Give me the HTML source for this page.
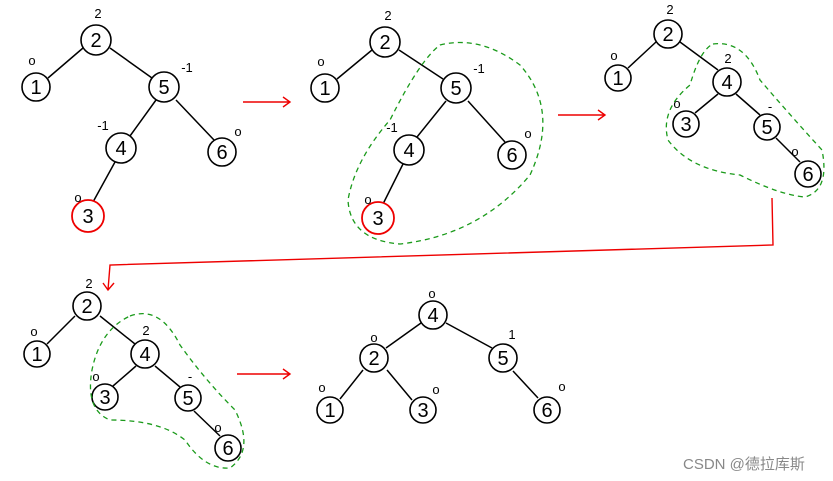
<!DOCTYPE html>
<html><head><meta charset="utf-8"><style>
html,body{margin:0;padding:0;background:#fff;}
svg{display:block;}
text{font-family:"Liberation Sans",sans-serif;}
</style></head><body>
<svg width="833" height="481" viewBox="0 0 833 481" xmlns="http://www.w3.org/2000/svg">
<g stroke="#000" stroke-width="1.5" fill="none">
<path d="M83 48 L48 78 M110 48 L152 78 M156 100 L130 136 M176 100 L214 140 M115 162 L93 202"/>
<path d="M372 50 L337 79 M399 50 L443 79 M446 101 L417 137 M468 101 L505 142 M403 164 L383 204"/>
<path d="M656 42 L628 68 M680 42 L718 70 M718 94 L695 113 M736 94 L760 115 M776 138 L800 162"/>
<path d="M75 316 L47 344 M100 316 L135 344 M136 366 L113 386 M155 366 L180 387 M194 411 L220 436"/>
<path d="M421 323 L386 348 M446 323 L492 348 M363 370 L340 399 M387 370 L412 400 M513 371 L538 398"/>
</g>
<g stroke="#000" stroke-width="1.6" fill="#fff">
<circle cx="96" cy="40" r="15"/><circle cx="36" cy="87" r="14"/><circle cx="164" cy="87" r="15"/><circle cx="121" cy="148" r="15"/><circle cx="222" cy="152" r="14"/>
<circle cx="385" cy="42" r="15"/><circle cx="325" cy="88" r="14"/><circle cx="456" cy="88" r="15"/><circle cx="409" cy="150" r="15"/><circle cx="512" cy="155" r="14"/>
<circle cx="668" cy="34" r="14"/><circle cx="618" cy="78" r="13"/><circle cx="727" cy="82" r="14"/><circle cx="686" cy="124" r="13"/><circle cx="767" cy="127" r="13"/><circle cx="808" cy="174" r="13"/>
<circle cx="87" cy="306" r="14"/><circle cx="37" cy="354" r="13"/><circle cx="145" cy="354" r="14"/><circle cx="105" cy="397" r="13"/><circle cx="188" cy="398" r="13"/><circle cx="228" cy="448" r="13"/>
<circle cx="433" cy="315" r="14"/><circle cx="374" cy="358" r="14"/><circle cx="503" cy="358" r="14"/><circle cx="330" cy="410" r="13"/><circle cx="423" cy="410" r="13"/><circle cx="547" cy="410" r="13"/>
</g>
<g stroke="#e00" stroke-width="1.8" fill="#fff">
<circle cx="88" cy="216" r="16"/><circle cx="378" cy="218" r="16"/>
</g>
<g font-size="20" text-anchor="middle" fill="#000">
<text x="96" y="47">2</text><text x="36" y="94">1</text><text x="164" y="94">5</text><text x="121" y="155">4</text><text x="222" y="159">6</text><text x="88" y="223">3</text>
<text x="385" y="49">2</text><text x="325" y="95">1</text><text x="456" y="95">5</text><text x="409" y="157">4</text><text x="512" y="162">6</text><text x="378" y="225">3</text>
<text x="668" y="41">2</text><text x="618" y="85">1</text><text x="727" y="89">4</text><text x="686" y="131">3</text><text x="767" y="134">5</text><text x="808" y="181">6</text>
<text x="87" y="313">2</text><text x="37" y="361">1</text><text x="145" y="361">4</text><text x="105" y="404">3</text><text x="188" y="405">5</text><text x="228" y="455">6</text>
<text x="433" y="322">4</text><text x="374" y="365">2</text><text x="503" y="365">5</text><text x="330" y="417">1</text><text x="423" y="417">3</text><text x="547" y="417">6</text>
</g>
<g font-size="13" text-anchor="middle" fill="#000">
<text x="98" y="18">2</text><text x="32" y="65">o</text><text x="187" y="72">-1</text><text x="103" y="130">-1</text><text x="238" y="136">o</text><text x="78" y="202">o</text>
<text x="388" y="20">2</text><text x="321" y="66">o</text><text x="479" y="73">-1</text><text x="392" y="132">-1</text><text x="528" y="138">o</text><text x="368" y="204">o</text>
<text x="670" y="14">2</text><text x="614" y="60">o</text><text x="728" y="63">2</text><text x="677" y="108">o</text><text x="770" y="111">-</text><text x="795" y="156">o</text>
<text x="89" y="288">2</text><text x="34" y="336">o</text><text x="146" y="335">2</text><text x="96" y="381">o</text><text x="190" y="381">-</text><text x="218" y="432">o</text>
<text x="432" y="298">o</text><text x="374" y="342">o</text><text x="512" y="339">1</text><text x="322" y="392">o</text><text x="436" y="394">o</text><text x="562" y="391">o</text>
</g>
<g stroke="#e00" stroke-width="1.4" fill="none">
<path d="M243 102 L290 102 M283 97 L290 102 L283 107"/>
<path d="M558 115 L605 115 M598 110 L605 115 L598 120"/>
<path d="M237 374 L290 374 M283 369 L290 374 L283 379"/>
<path d="M772 198 L773 245 L110 265 L108 290 M103 283 L108 290 L114 283"/>
</g>
<g stroke="#1a9a1a" stroke-width="1.3" fill="none" stroke-dasharray="5 4">
<path d="M440 45 Q480 35 520 65 Q560 110 530 175 Q480 235 400 244 Q350 240 348 200 Q355 160 390 120 Q420 60 440 45 Z"/>
<path d="M713 44 Q745 40 760 80 Q790 115 822 150 Q830 190 805 197 Q780 195 740 175 Q690 170 668 140 Q660 110 690 85 Q700 50 713 44 Z"/>
<path d="M130 316 Q160 305 180 345 Q205 380 235 410 Q255 450 230 468 Q205 470 185 440 Q160 420 110 420 Q85 410 92 370 Q100 330 130 316 Z"/>
</g>
<text x="683" y="469" font-size="15" fill="#888" style='font-family:"Liberation Sans","Noto Sans CJK SC",sans-serif'>CSDN @德拉库斯</text>
</svg>
</body></html>
